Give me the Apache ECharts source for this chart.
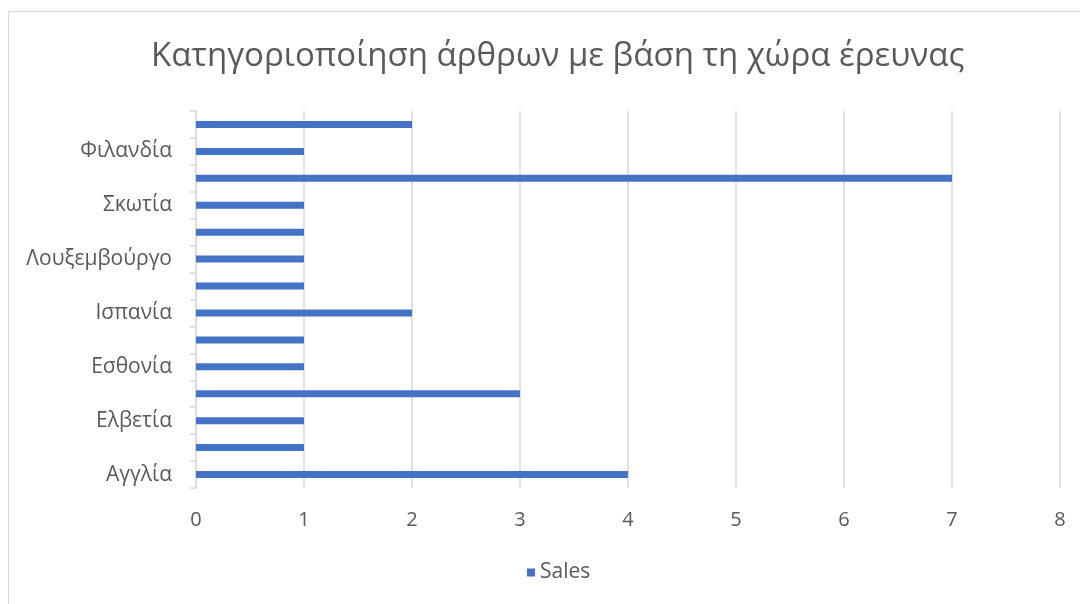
<!DOCTYPE html>
<html>
<head>
<meta charset="utf-8">
<script src="https://cdn.jsdelivr.net/npm/echarts@6/dist/echarts.min.js"></script>
<style>
  html, body { margin: 0; padding: 0; background: #fff; }
  #main { width: 1080px; height: 604px; }
  .frame { position: absolute; left: 8px; top: 11px; width: 1090px; height: 600px; border: 1px solid #d9d9d9; box-sizing: border-box; }
</style>
</head>
<body>
<div class="frame"></div>
<div id="main" style="position:absolute;left:0;top:0;"></div>
<script>
// bottom to top, as drawn on the chart
const countries = ['Αγγλία', 'Γερμανία', 'Ελβετία', 'Ελλάδα', 'Εσθονία', 'Ιρλανδία', 'Ισπανία',
  'Ιταλία', 'Λουξεμβούργο', 'Ολλανδία', 'Σκωτία', 'Σουηδία', 'Φιλανδία', 'Χιλή'];
const sales = [4, 1, 1, 3, 1, 1, 2, 1, 1, 1, 1, 7, 1, 2];
const xTicks = [0, 8, 1];  // min, max, step

const txt = '#595959';
const font = 'Open Sans';

const chart = echarts.init(document.getElementById('main'));
chart.setOption({
  animation: false,
  textStyle: { fontFamily: font },
  title: {
    text: 'Κατηγοριοποίηση άρθρων με βάση τη χώρα έρευνας',
    left: 146,
    top: 35,
    textStyle: { color: txt, fontSize: 33, fontWeight: 'normal', fontFamily: font }
  },
  legend: {
    bottom: 16,
    left: 522,
    icon: 'rect',
    itemWidth: 8,
    itemHeight: 8,
    itemGap: 6,
    textStyle: { color: txt, fontSize: 21, fontFamily: font }
  },
  grid: { left: 196, right: 20, top: 111, bottom: 116, containLabel: false },
  xAxis: {
    type: 'value',
    min: xTicks[0],
    max: xTicks[1],
    interval: xTicks[2],
    axisLine: { show: false },
    axisTick: { show: false },
    splitLine: { lineStyle: { color: '#d9d9d9', width: 1.5 } },
    axisLabel: { color: txt, fontSize: 20, margin: 22 }
  },
  yAxis: {
    type: 'category',
    data: countries,
    axisLine: { lineStyle: { color: '#d9d9d9', width: 1.5 } },
    axisTick: { show: true, length: 6, interval: 0, lineStyle: { color: '#d9d9d9', width: 1.5 } },
    axisLabel: { color: txt, fontSize: 21, interval: 1, margin: 24 }
  },
  series: [{
    name: 'Sales',
    type: 'bar',
    data: sales,
    barWidth: 7,
    itemStyle: { color: '#4472C4' }
  }]
});
</script>
</body>
</html>
